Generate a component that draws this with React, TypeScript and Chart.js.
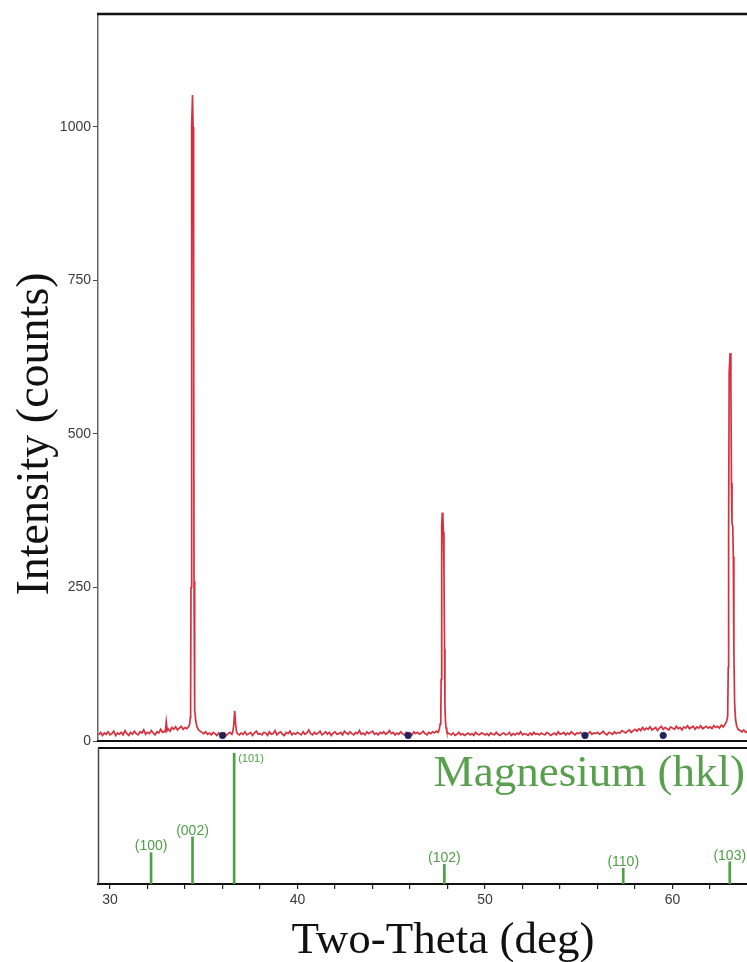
import React, { useEffect, useRef } from "react";
import { Chart, registerables } from "chart.js";
Chart.register(...registerables);

// ---------- data ----------
const twoTheta: number[] = [
  29.4, 29.5, 29.6, 29.7, 29.8, 29.9,
  30.0, 30.1, 30.2, 30.3, 30.4, 30.5, 30.6, 30.7, 30.8, 30.9,
  31.0, 31.1, 31.2, 31.3, 31.4, 31.5, 31.6, 31.7, 31.8, 31.9,
  32.0, 32.1, 32.2, 32.3, 32.4, 32.5, 32.6, 32.7, 32.8, 32.9,
  32.95, 33.0, 33.05,
  33.1, 33.2, 33.3, 33.4, 33.5, 33.6, 33.7, 33.8, 33.9, 34.0, 34.1, 34.2,
  34.25, 34.28, 34.3, 34.32, 34.34, 34.37, 34.4, 34.43, 34.46, 34.48, 34.5, 34.53, 34.57, 34.62, 34.7, 34.8, 34.9,
  35.0, 35.1, 35.2, 35.3, 35.4, 35.5, 35.6, 35.7, 35.8, 35.9,
  36.0, 36.1, 36.2, 36.3, 36.4, 36.5,
  36.55, 36.6, 36.65, 36.7, 36.75, 36.8, 36.9,
  37.0, 37.1, 37.2, 37.3, 37.4, 37.5, 37.6, 37.7, 37.8, 37.9,
  38.0, 38.1, 38.2, 38.3, 38.4, 38.5, 38.6, 38.7, 38.8, 38.9,
  39.0, 39.1, 39.2, 39.3, 39.4, 39.5, 39.6, 39.7, 39.8, 39.9,
  40.0, 40.1, 40.2, 40.3, 40.4, 40.5, 40.6, 40.7, 40.8, 40.9,
  41.0, 41.1, 41.2, 41.3, 41.4, 41.5, 41.6, 41.7, 41.8, 41.9,
  42.0, 42.1, 42.2, 42.3, 42.4, 42.5, 42.6, 42.7, 42.8, 42.9,
  43.0, 43.1, 43.2, 43.3, 43.4, 43.5, 43.6, 43.7, 43.8, 43.9,
  44.0, 44.1, 44.2, 44.3, 44.4, 44.5, 44.6, 44.7, 44.8, 44.9,
  45.0, 45.1, 45.2, 45.3, 45.4, 45.5, 45.6, 45.7, 45.8, 45.9,
  46.0, 46.1, 46.2, 46.3, 46.4, 46.5, 46.6, 46.7, 46.8, 46.9,
  47.0, 47.1, 47.2, 47.3, 47.4, 47.5,
  47.56, 47.61, 47.64, 47.66, 47.68, 47.7, 47.72, 47.75, 47.78, 47.81, 47.84, 47.86, 47.89, 47.92, 47.96, 48.02,
  48.1, 48.2, 48.3, 48.4, 48.5, 48.6, 48.7, 48.8, 48.9,
  49.0, 49.1, 49.2, 49.3, 49.4, 49.5, 49.6, 49.7, 49.8, 49.9,
  50.0, 50.1, 50.2, 50.3, 50.4, 50.5, 50.6, 50.7, 50.8, 50.9,
  51.0, 51.1, 51.2, 51.3, 51.4, 51.5, 51.6, 51.7, 51.8, 51.9,
  52.0, 52.1, 52.2, 52.3, 52.4, 52.5, 52.6, 52.7, 52.8, 52.9,
  53.0, 53.1, 53.2, 53.3, 53.4, 53.5, 53.6, 53.7, 53.8, 53.9,
  54.0, 54.1, 54.2, 54.3, 54.4, 54.5, 54.6, 54.7, 54.8, 54.9,
  55.0, 55.1, 55.2, 55.3, 55.4, 55.5, 55.6, 55.7, 55.8, 55.9,
  56.0, 56.1, 56.2, 56.3, 56.4, 56.5, 56.6, 56.7, 56.8, 56.9,
  57.0, 57.1, 57.2, 57.3, 57.4, 57.5, 57.6, 57.7, 57.8, 57.9,
  58.0, 58.1, 58.2, 58.3, 58.4, 58.5, 58.6, 58.7, 58.8, 58.9,
  59.0, 59.1, 59.2, 59.3, 59.4, 59.5, 59.6, 59.7, 59.8, 59.9,
  60.0, 60.1, 60.2, 60.3, 60.4, 60.5, 60.6, 60.7, 60.8, 60.9,
  61.0, 61.1, 61.2, 61.3, 61.4, 61.5, 61.6, 61.7, 61.8, 61.9,
  62.0, 62.1, 62.2, 62.3, 62.4, 62.5, 62.6, 62.7, 62.8,
  62.88, 62.94, 62.97, 62.99, 63.02, 63.07, 63.11, 63.14, 63.17, 63.21, 63.24, 63.27, 63.31, 63.36, 63.42,
  63.5, 63.6, 63.7, 63.8, 63.9, 64.0,
];

const counts: number[] = [
  10, 14, 9, 13, 11, 15,
  10, 12, 16, 9, 13, 11, 14, 10, 17, 12,
  9, 14, 11, 16, 12, 10, 15, 13, 18, 11,
  14, 12, 17, 13, 10, 15, 13, 19, 14, 16,
  15, 31, 17,
  20, 16, 22, 19, 23, 18, 21, 24, 19, 22, 20, 24,
  28, 38, 70, 250, 700, 1000, 1052, 1000, 700, 260, 90, 50, 34, 25, 19, 16, 14,
  12, 15, 11, 13, 10, 14, 12, 9, 13, 11,
  10, 13, 9, 12, 14, 11,
  15, 26, 49, 27, 15, 12, 10,
  13, 11, 15, 10, 12, 14, 9, 13, 16, 11,
  12, 10, 14, 13, 9, 15, 11, 12, 17, 10,
  13, 15, 11, 9, 14, 12, 16, 10, 13, 11,
  14, 12, 10, 15, 11, 13, 18, 12, 10, 14,
  11, 13, 16, 10, 12, 15, 11, 14, 9, 13,
  15, 11, 12, 14, 10, 16, 13, 11, 15, 12,
  10, 14, 12, 17, 11, 13, 10, 15, 12, 14,
  16, 11, 13, 10, 14, 12, 15, 11, 13, 17,
  12, 14, 10, 13, 11, 15, 12, 10, 14, 11,
  13, 10, 15, 12, 14, 11, 13, 16, 12, 10,
  14, 12, 15, 13, 16, 14,
  19, 28, 40, 100, 250, 350, 372, 365, 340, 280, 150, 60, 32, 22, 16, 13,
  12, 10, 13, 9, 11, 14, 10, 12, 9,
  11, 13, 10, 12, 9, 14, 11, 10, 13, 12,
  10, 12, 9, 13, 11, 10, 14, 11, 9, 12,
  13, 10, 11, 14, 9, 12, 10, 13, 11, 15,
  10, 12, 11, 9, 13, 10, 14, 11, 12, 10,
  13, 11, 10, 14, 12, 9, 11, 13, 10, 15,
  11, 12, 14, 10, 13, 11, 15, 12, 10, 13,
  12, 14, 11, 13, 10, 12, 15, 11, 13, 12,
  14, 11, 13, 16, 12, 10, 14, 13, 11, 15,
  12, 14, 13, 17, 15, 13, 16, 18, 14, 17,
  19, 16, 20, 17, 22, 18, 21, 19, 23, 18,
  20, 22, 17, 21, 24, 19, 22, 20, 18, 23,
  21, 19, 24, 20, 22, 18, 23, 21, 25, 20,
  22, 24, 19, 23, 21, 25, 20, 22, 24, 21,
  23, 20, 25, 22, 24, 21, 26, 23, 27,
  32, 40, 120, 350, 600, 632, 590, 420, 355, 350, 300, 150, 60, 35, 24,
  19, 17, 15, 18, 14, 16,
];

const markerTheta: number[] = [36.0, 45.9, 55.33, 59.5];
const markerCounts: number[] = [9, 9, 9, 9];

const hklLabels: string[] = ["(100)", "(002)", "(101)", "(102)", "(110)", "(103)"];
const hklTheta: number[] = [32.19, 34.4, 36.62, 47.83, 57.37, 63.05];
const hklIntensity: number[] = [24, 36, 100, 15, 12, 17];

const yTickValues: number[] = [0, 250, 500, 750, 1000];
const xTickValues: number[] = [30, 32, 34, 36, 38, 40, 42, 44, 46, 48, 50, 52, 54, 56, 58, 60, 62];
const xLabelValues: number[] = [30, 40, 50, 60];

const X_MIN = 29.36;
const X_MAX = 63.97;
const Y_MAX = 1184;
const HKL_MAX = 104;

const SERIF = '"Liberation Serif", "Times New Roman", serif';
const SANS = '"Liberation Sans", Arial, sans-serif';
const RED = "rgb(214,48,62)";
const GREEN = "rgb(78,160,68)";

export default function App() {
  const topRef = useRef<HTMLCanvasElement | null>(null);
  const botRef = useRef<HTMLCanvasElement | null>(null);

  useEffect(() => {
    const topFrame: any = {
      id: "topFrame",
      beforeDatasetsDraw(chart: any) {
        const { ctx, chartArea: a } = chart;
        ctx.save();
        ctx.strokeStyle = "#111";
        ctx.lineWidth = 2.5;
        ctx.beginPath();
        ctx.moveTo(a.left - 1, a.top);
        ctx.lineTo(a.right, a.top);
        ctx.stroke();
        ctx.lineWidth = 2;
        ctx.beginPath();
        ctx.moveTo(a.left - 1, a.bottom);
        ctx.lineTo(a.right, a.bottom);
        ctx.stroke();
        ctx.restore();
      },
      afterDraw(chart: any) {
        const { ctx } = chart;
        ctx.save();
        ctx.font = `46px ${SERIF}`;
        ctx.fillStyle = "#111";
        ctx.translate(48, 434);
        ctx.rotate(-Math.PI / 2);
        ctx.textAlign = "center";
        ctx.textBaseline = "alphabetic";
        ctx.fillText("Intensity (counts)", 0, 0);
        ctx.restore();
      },
    };

    const top = new Chart(topRef.current as HTMLCanvasElement, {
      type: "scatter",
      data: {
        datasets: [
          {
            label: "markers",
            data: markerTheta.map((x, i) => ({ x, y: markerCounts[i] })),
            pointRadius: 3.2,
            pointBackgroundColor: "#1d2456",
            pointBorderColor: "#2a3170",
            pointBorderWidth: 1,
            showLine: false,
            order: 0,
          },
          {
            label: "scan",
            data: twoTheta.map((x, i) => ({ x, y: counts[i] })),
            showLine: true,
            borderColor: RED,
            borderWidth: 1.7,
            pointRadius: 0,
            tension: 0,
            order: 1,
          },
        ],
      },
      options: {
        animation: false,
        responsive: false,
        maintainAspectRatio: false,
        layout: { autoPadding: false, padding: { top: 14, bottom: 19, left: 0, right: 0 } },
        plugins: { legend: { display: false }, tooltip: { enabled: false } },
        scales: {
          x: { type: "linear", min: X_MIN, max: X_MAX, display: false },
          y: {
            type: "linear",
            min: 0,
            max: Y_MAX,
            afterBuildTicks(axis: any) {
              axis.ticks = yTickValues.map((v) => ({ value: v }));
            },
            afterFit(axis: any) {
              axis.width = 98;
            },
            ticks: {
              font: { family: SANS, size: 14 },
              color: "#3a3a3a",
              padding: 2,
              callback: (v: any) => String(v),
            },
            grid: { drawOnChartArea: false, tickLength: 5, color: "#444", lineWidth: 1 },
            border: { display: true, color: "#666", width: 1.5 },
          },
        },
      } as any,
      plugins: [topFrame],
    });

    const botFrame: any = {
      id: "botFrame",
      beforeDatasetsDraw(chart: any) {
        const { ctx, chartArea: a } = chart;
        ctx.save();
        ctx.strokeStyle = "#111";
        ctx.lineWidth = 2.2;
        ctx.beginPath();
        ctx.moveTo(a.left, a.top);
        ctx.lineTo(a.right, a.top);
        ctx.stroke();
        ctx.strokeStyle = "#444";
        ctx.lineWidth = 1.5;
        ctx.beginPath();
        ctx.moveTo(a.left + 0.5, a.top);
        ctx.lineTo(a.left + 0.5, a.bottom);
        ctx.stroke();
        ctx.restore();
      },
      afterDatasetsDraw(chart: any) {
        const { ctx } = chart;
        const xs = chart.scales.x;
        const ys = chart.scales.y;
        ctx.save();
        ctx.fillStyle = GREEN;
        hklLabels.forEach((lab, i) => {
          const px = xs.getPixelForValue(hklTheta[i]);
          const py = ys.getPixelForValue(hklIntensity[i]);
          if (hklIntensity[i] >= 90) {
            ctx.font = `11px ${SANS}`;
            ctx.textAlign = "left";
            ctx.textBaseline = "top";
            ctx.fillText(lab, px + 4, py);
          } else {
            ctx.font = `14px ${SANS}`;
            ctx.textAlign = "center";
            ctx.textBaseline = "bottom";
            ctx.fillText(lab, px, py + 1);
          }
        });
        ctx.font = `45px ${SERIF}`;
        ctx.textAlign = "right";
        ctx.textBaseline = "alphabetic";
        ctx.fillStyle = "rgb(88,160,78)";
        ctx.fillText("Magnesium (hkl)", 745, 41);
        ctx.fillStyle = "#111";
        ctx.font = `45px ${SERIF}`;
        ctx.textAlign = "center";
        ctx.fillText("Two-Theta (deg)", 443, 208);
        ctx.restore();
      },
    };

    const bot = new Chart(botRef.current as HTMLCanvasElement, {
      type: "bar",
      data: {
        datasets: [
          {
            label: "Magnesium",
            data: hklTheta.map((x, i) => ({ x, y: hklIntensity[i] })),
            backgroundColor: GREEN,
            borderWidth: 0,
            barThickness: 2,
          },
        ],
      },
      options: {
        animation: false,
        responsive: false,
        maintainAspectRatio: false,
        layout: { autoPadding: false, padding: { top: 3, bottom: 0, left: 98, right: 0 } },
        plugins: { legend: { display: false }, tooltip: { enabled: false } },
        scales: {
          x: {
            type: "linear",
            min: X_MIN,
            max: X_MAX,
            offset: false,
            afterBuildTicks(axis: any) {
              axis.ticks = xTickValues.map((v) => ({ value: v }));
            },
            afterFit(axis: any) {
              axis.height = 78;
            },
            ticks: {
              font: { family: SANS, size: 14 },
              color: "#3a3a3a",
              padding: 3,
              maxRotation: 0,
              autoSkip: false,
              callback: (v: any) => (xLabelValues.includes(Number(v)) ? String(v) : ""),
            },
            grid: { offset: false, drawOnChartArea: false, tickLength: 5, color: "#222", lineWidth: 1.2 },
            border: { display: true, color: "#111", width: 2 },
          },
          y: { type: "linear", min: 0, max: HKL_MAX, display: false },
        },
      } as any,
      plugins: [botFrame],
    });

    return () => {
      top.destroy();
      bot.destroy();
    };
  }, []);

  return (
    <div
      style={{
        position: "absolute",
        left: 0,
        top: 0,
        width: 747,
        height: 962,
        background: "#fff",
        overflow: "hidden",
      }}
    >
      <canvas
        ref={topRef}
        width={747}
        height={760}
        style={{ position: "absolute", left: 0, top: 0, width: 747, height: 760 }}
      />
      <canvas
        ref={botRef}
        width={747}
        height={217}
        style={{ position: "absolute", left: 0, top: 745, width: 747, height: 217 }}
      />
    </div>
  );
}
